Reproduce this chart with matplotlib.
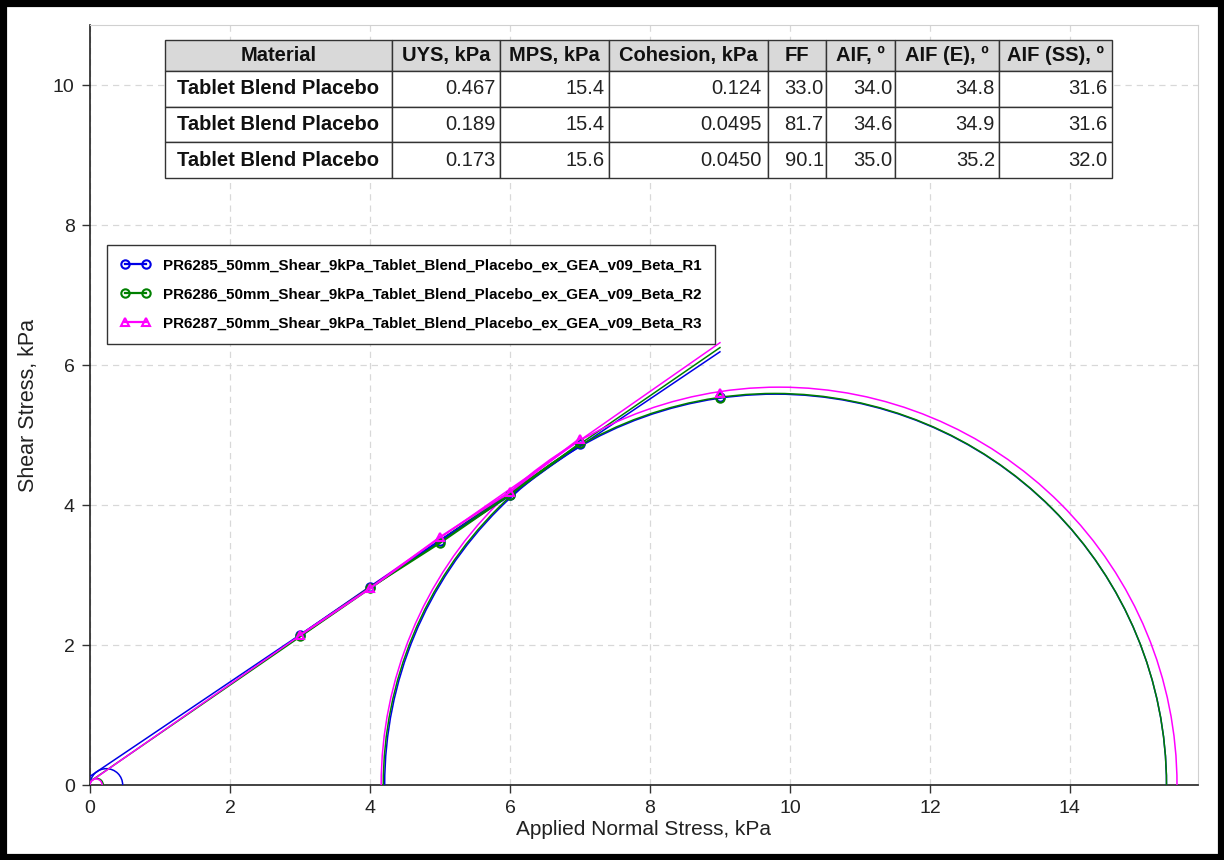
import numpy as np
import matplotlib
matplotlib.use('Agg')
import matplotlib.pyplot as plt
from matplotlib.patches import Arc, Rectangle
from matplotlib.lines import Line2D

plt.rcParams['font.family'] = ['Liberation Sans', 'DejaVu Sans']

# series
names = ['PR6285_50mm_Shear_9kPa_Tablet_Blend_Placebo_ex_GEA_v09_Beta_R1',
         'PR6286_50mm_Shear_9kPa_Tablet_Blend_Placebo_ex_GEA_v09_Beta_R2',
         'PR6287_50mm_Shear_9kPa_Tablet_Blend_Placebo_ex_GEA_v09_Beta_R3']
colors = ['#0000e6', '#008000', '#ff00ff']
markers = ['o', 'o', '^']

# shear points (normal stress, shear stress)
shear_x = [3, 4, 5, 6, 7]
shear_y = [[2.14, 2.83, 3.49, 4.14, 4.87],
           [2.13, 2.82, 3.46, 4.15, 4.88],
           [2.14, 2.81, 3.54, 4.19, 4.95]]
preshear_x = 9
preshear_y = [5.55, 5.53, 5.60]

# yield locus: cohesion at 0, value at end x
cohesion = [0.124, 0.0495, 0.0450]
locus_end_x = 9.0
locus_end_y = [6.19, 6.25, 6.32]

# Mohr circles
uys = [0.467, 0.189, 0.173]
sigma2 = [4.21, 4.19, 4.16]
sigma1 = [15.38, 15.38, 15.53]

# table
col_labels = ['Material', 'UYS, kPa', 'MPS, kPa', 'Cohesion, kPa', 'FF',
              'AIF, \u00ba', 'AIF (E), \u00ba', 'AIF (SS), \u00ba']
table_rows = [['Tablet Blend Placebo', '0.467', '15.4', '0.124', '33.0', '34.0', '34.8', '31.6'],
              ['Tablet Blend Placebo', '0.189', '15.4', '0.0495', '81.7', '34.6', '34.9', '31.6'],
              ['Tablet Blend Placebo', '0.173', '15.6', '0.0450', '90.1', '35.0', '35.2', '32.0']]
col_widths = [226.5, 108.5, 109, 159, 58, 69, 104, 113]

fig = plt.figure(figsize=(12.24, 8.6), dpi=100)
ax = fig.add_axes([90/1224, 75/860, 1108/1224, 760/860])

for i in range(3):
    c = colors[i]
    # yield locus line
    ax.plot([0, locus_end_x], [cohesion[i], locus_end_y[i]], color=c, lw=1.1, zorder=3)
    # measured points
    ax.plot(shear_x, shear_y[i], color=c, lw=1.6, marker=markers[i], ms=6,
            mfc='none', mec=c, mew=1.5, zorder=4)
    ax.plot([preshear_x], [preshear_y[i]], marker=markers[i], ms=6,
            mfc='none', mec=c, mew=1.5, ls='none', zorder=4)
    # small circle (unconfined yield)
    ax.add_patch(Arc((uys[i] / 2, 0), uys[i], uys[i], theta1=0, theta2=180,
                     color=c, lw=1.1, zorder=3))
    # large circle (major principal)
    d = sigma1[i] - sigma2[i]
    ax.add_patch(Arc(((sigma1[i] + sigma2[i]) / 2, 0), d, d, theta1=0, theta2=180,
                     color=c, lw=1.1, zorder=3))

ax.set_xlim(0, 15.83)
ax.set_ylim(0, 10.86)
ax.set_xticks(np.arange(0, 15, 2))
ax.set_yticks(np.arange(0, 11, 2))
ax.grid(True, color='#d8d8d8', ls=(0, (5, 4)), lw=0.9)
ax.set_axisbelow(True)
ax.tick_params(labelsize=14, colors='#333333', length=6, width=1, pad=5)
ax.tick_params(axis='both', labelcolor='#222222')
for s in ['top', 'right']:
    ax.spines[s].set_color('#d0d0d0')
for s in ['left', 'bottom']:
    ax.spines[s].set_color('#222222')
    ax.spines[s].set_linewidth(1.2)
ax.set_xlabel('Applied Normal Stress, kPa', fontsize=15, color='#222222', labelpad=2)
ax.set_ylabel('Shear Stress, kPa', fontsize=15.5, color='#222222', labelpad=10)

# legend
handles = [Line2D([0], [0], color=colors[i], lw=1.6, marker=markers[i], ms=6,
                  mfc='none', mec=colors[i], mew=1.5) for i in range(3)]
leg = ax.legend(handles, names, loc='upper left', bbox_to_anchor=(0.0153, 0.7105),
                numpoints=2, handlelength=2.0, fancybox=False, framealpha=1,
                edgecolor='#333333', prop={'weight': 'bold', 'size': 10.9},
                borderpad=0.9, labelspacing=0.98, handletextpad=0.8, borderaxespad=0)
leg.get_frame().set_linewidth(1.0)

# table
tw = sum(col_widths)
tab = ax.table(cellText=table_rows, colLabels=col_labels, cellLoc='right',
               colWidths=[w / tw for w in col_widths],
               bbox=[(165 - 90) / 1108, (785 - 178) / 760, tw / 1108, 138 / 760])
tab.auto_set_font_size(False)
tab.set_fontsize(14.5)
for (r, col), cell in tab.get_celld().items():
    cell.set_edgecolor('#333333')
    cell.set_linewidth(1.0)
    cell.PAD = 0.04
    cell.set_height(0.031 if r == 0 else 0.0357)
    if r == 0:
        cell.set_facecolor('#d9d9d9')
        cell.set_text_props(weight='bold', ha='center', color='#111111')
    elif col == 0:
        cell.set_text_props(weight='bold', ha='center', color='#111111')
    else:
        cell.set_text_props(color='#222222')
tab.set_zorder(5)

# outer border
fig.patches.append(Rectangle((0, 0), 1, 1, transform=fig.transFigure, fill=False,
                             edgecolor='black', lw=9.5))

fig.savefig('out.png', dpi=100)
